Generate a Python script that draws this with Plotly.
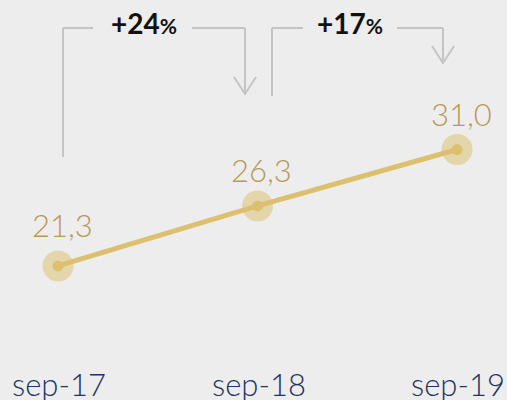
import plotly.graph_objects as go

periodos = ["sep-17", "sep-18", "sep-19"]
valores = [21.3, 26.3, 31.0]
rotulos = ["21,3", "26,3", "31,0"]
crescimento = ["+24", "+17"]

FUNDO = "#ededed"
OURO = "#dcc070"
HALO = "#e4d6ab"
TXT_OURO = "#b7995a"
AZUL = "#1f3560"
CINZA = "#c4c4c4"

x = list(range(len(periodos)))

fig = go.Figure()
# halo dos pontos
fig.add_trace(go.Scatter(x=x, y=valores, mode="markers",
                         marker=dict(size=31, color=HALO), hoverinfo="skip"))
# linha + ponto central
fig.add_trace(go.Scatter(x=x, y=valores, mode="lines+markers",
                         line=dict(color=OURO, width=5),
                         marker=dict(size=11, color=OURO)))

# rótulos dos valores
shifts = [20, 15, 15]
for i, (v, t) in enumerate(zip(valores, rotulos)):
    fig.add_annotation(x=i, y=v, text=t, showarrow=False, xanchor="center", yanchor="bottom",
                       xshift=4, yshift=shifts[i],
                       font=dict(family="Lato", size=31, color=TXT_OURO, weight=300))

# rótulos do eixo x
for i, p in enumerate(periodos):
    fig.add_annotation(x=i, y=0, yref="paper", text=p, showarrow=False,
                       xanchor="center", yanchor="bottom", xshift=1, yshift=-5,
                       font=dict(family="Lato", size=31, color=AZUL, weight=300))

# colchetes de crescimento (pixels -> paper)
def py(pix):
    return 1 - pix / 400

def seta(x0, x1, topo, base_esq, ponta, txt_a, txt_b):
    kw = dict(xref="paper", yref="paper", line=dict(color=CINZA, width=2))
    fig.add_shape(type="line", x0=x0 / 507, x1=x0 / 507, y0=py(base_esq), y1=py(topo), **kw)
    fig.add_shape(type="line", x0=x0 / 507, x1=txt_a / 507, y0=py(topo), y1=py(topo), **kw)
    fig.add_shape(type="line", x0=txt_b / 507, x1=x1 / 507, y0=py(topo), y1=py(topo), **kw)
    fig.add_shape(type="line", x0=x1 / 507, x1=x1 / 507, y0=py(topo), y1=py(ponta), **kw)
    fig.add_shape(type="path",
                  path=f"M {(x1 - 11) / 507},{py(ponta - 17)} L {x1 / 507},{py(ponta)} L {(x1 + 11) / 507},{py(ponta - 17)}",
                  xref="paper", yref="paper", line=dict(color=CINZA, width=2))

seta(63, 245, 28, 157, 94, 93, 192)
seta(272, 443, 28, 96, 63, 303, 397)

centros = [144, 350]
for c, g in zip(centros, crescimento):
    fig.add_annotation(x=c / 507, y=py(23), xref="paper", yref="paper", showarrow=False,
                       text=f"<b>{g}<span style='font-size:21px'>%</span></b>",
                       xanchor="center", yanchor="middle",
                       font=dict(family="Lato", size=28, color="#111111"))

fig.update_layout(
    width=507, height=400,
    margin=dict(l=0, r=0, t=0, b=0),
    paper_bgcolor=FUNDO, plot_bgcolor=FUNDO,
    showlegend=False,
    xaxis=dict(range=[-0.2907, 2.25], visible=False, fixedrange=True),
    yaxis=dict(range=[10.13, 43.46], visible=False, fixedrange=True),
)

fig.write_html("out.html", config={"displayModeBar": False},
               post_script="document.body.style.margin='0';document.body.style.overflow='hidden';")
